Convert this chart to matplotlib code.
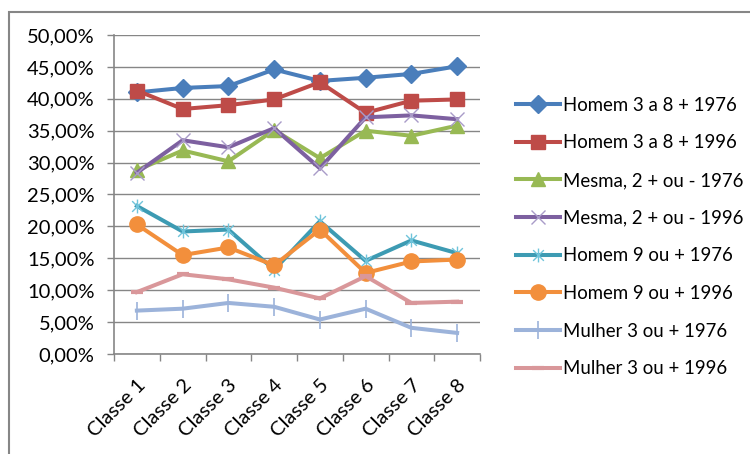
import matplotlib
matplotlib.use("Agg")
import matplotlib.pyplot as plt
from matplotlib.path import Path
from matplotlib.patches import Rectangle
from matplotlib.ticker import FuncFormatter, MultipleLocator, FixedLocator
import numpy as np

plt.rcParams['font.family'] = ['Lato', 'DejaVu Sans']

classes = ["Classe 1", "Classe 2", "Classe 3", "Classe 4",
           "Classe 5", "Classe 6", "Classe 7", "Classe 8"]

homem_3a8_1976 = [41.0, 41.7, 42.0, 44.6, 42.8, 43.3, 43.9, 45.1]
homem_3a8_1996 = [41.3, 38.4, 39.0, 39.9, 42.6, 37.8, 39.7, 39.9]
mesma_2_1976 = [28.8, 31.9, 30.2, 35.1, 30.7, 35.0, 34.2, 35.8]
mesma_2_1996 = [28.4, 33.5, 32.4, 35.4, 29.1, 37.1, 37.4, 36.8]
homem_9_1976 = [23.2, 19.2, 19.5, 13.2, 20.8, 14.6, 17.8, 15.8]
homem_9_1996 = [20.3, 15.5, 16.7, 13.9, 19.5, 12.7, 14.5, 14.8]
mulher_3_1976 = [6.8, 7.1, 8.0, 7.4, 5.4, 7.1, 4.1, 3.3]
mulher_3_1996 = [9.7, 12.5, 11.7, 10.4, 8.7, 12.2, 8.0, 8.2]

labels = ["Homem 3 a 8 + 1976", "Homem 3 a 8 + 1996",
          "Mesma, 2 + ou - 1976", "Mesma, 2 + ou - 1996",
          "Homem 9 ou + 1976", "Homem 9 ou + 1996",
          "Mulher 3 ou + 1976", "Mulher 3 ou + 1996"]

# excel style asterisk: an x with a vertical bar through it
star = Path([(-1, -1), (1, 1), (-1, 1), (1, -1), (0, -1.3), (0, 1.3)],
            [Path.MOVETO, Path.LINETO, Path.MOVETO, Path.LINETO,
             Path.MOVETO, Path.LINETO])

styles = [
    dict(color="#4A7EBB", marker="D", ms=9, mec="#4A7EBB"),
    dict(color="#BE4B48", marker="s", ms=10.5, mec="#BE4B48"),
    dict(color="#98B954", marker="^", ms=10.5, mec="#98B954"),
    dict(color="#7D60A0", marker="x", ms=10, mec="#A99BC8", mew=1.0),
    dict(color="#3D9BB3", marker=star, ms=10, mec="#6FC4DB", mew=1.0),
    dict(color="#F28F3C", marker="o", ms=11, mec="#F28F3C"),
    dict(color="#9CB3DA", marker="|", ms=13, mec="#9CB3DA", mew=1.2),
    dict(color="#D9979A", marker="_", ms=8, mec="#D9979A", mew=3),
]

series = [homem_3a8_1976, homem_3a8_1996, mesma_2_1976, mesma_2_1996,
          homem_9_1976, homem_9_1996, mulher_3_1976, mulher_3_1996]

fig = plt.figure(figsize=(7.5, 4.54), dpi=100)
ax = fig.add_axes([0.152, 0.2203, 0.488, 0.7026])

x = np.arange(len(classes))
for vals, lab, st in zip(series, labels, styles):
    ax.plot(x, np.array(vals) / 100, lw=2.9, label=lab,
            solid_joinstyle="miter", **st)

ax.set_xlim(-0.5, 7.5)
ax.set_ylim(0, 0.5)
ax.yaxis.set_major_locator(MultipleLocator(0.05))
ax.yaxis.set_major_formatter(FuncFormatter(lambda v, p: f"{v*100:.2f}%".replace(".", ",")))
ax.grid(axis="y", color="#868686", lw=1.0)
ax.set_axisbelow(True)

ax.set_xticks(x)
ax.set_xticklabels(classes, rotation=45, ha="right", va="top", rotation_mode="anchor")
ax.xaxis.set_minor_locator(FixedLocator(np.arange(-0.5, 8, 1)))
ax.tick_params(axis="x", which="major", length=0, pad=16, labelsize=14.5)
ax.tick_params(axis="x", which="minor", length=5, color="#868686", width=1)
ax.tick_params(axis="y", length=5, color="#868686", width=1, labelsize=14.5, pad=9)

for s in ["top", "right"]:
    ax.spines[s].set_visible(False)
for s in ["left", "bottom"]:
    ax.spines[s].set_color("#868686")
    ax.spines[s].set_linewidth(1.2)

ax.legend(loc="center left", bbox_to_anchor=(1.053, 0.367), frameon=False,
          fontsize=13.4, numpoints=1, handlelength=2.37, handletextpad=0.15,
          labelspacing=1.11)

# outer chart border
fig.patches.append(Rectangle((9 / 750, -0.1), 1.1, 1 - 12 / 454 + 0.1,
                             transform=fig.transFigure, fill=False,
                             edgecolor="#868686", lw=1.5))

fig.savefig("out.png", dpi=100)
